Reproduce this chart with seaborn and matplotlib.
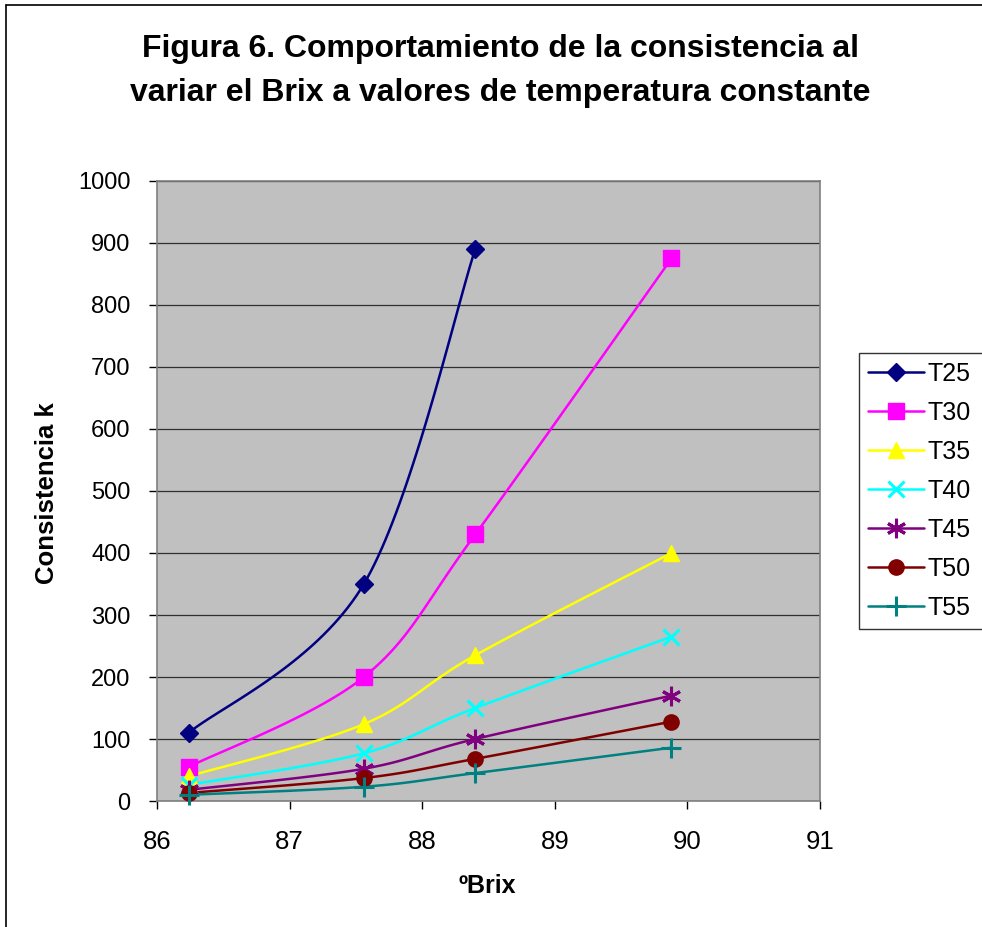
import numpy as np
import pandas as pd
import matplotlib
matplotlib.use("Agg")
import matplotlib.pyplot as plt
from matplotlib.lines import Line2D
import seaborn as sns

# Data: consistency k versus ºBrix at constant temperature
brix = [86.24, 87.56, 88.40, 89.88]
T25 = [110, 350, 890]
T30 = [55, 200, 430, 875]
T35 = [40, 124, 235, 400]
T40 = [26, 77, 150, 265]
T45 = [18, 52, 100, 170]
T50 = [13, 37, 68, 128]
T55 = [10, 23, 45, 86]

series_names = ["T25", "T30", "T35", "T40", "T45", "T50", "T55"]
series_values = [T25, T30, T35, T40, T45, T50, T55]
colors = ["#000080", "#FF00FF", "#FFFF00", "#00FFFF", "#800080", "#800000", "#008080"]
markers = ["D", "s", "^", "x", (6, 2, 0), "o", "+"]
msizes = [9, 11, 12, 12, 14, 11, 14]

x_ticks = [86, 87, 88, 89, 90, 91]
y_ticks = list(range(0, 1001, 100))

sns.set_theme(style="white")
plt.rcParams["font.family"] = ["Liberation Sans", "DejaVu Sans"]
plt.rcParams["text.color"] = "#000000"
plt.rcParams["axes.labelcolor"] = "#000000"
plt.rcParams["xtick.color"] = "#000000"
plt.rcParams["ytick.color"] = "#000000"

fig = plt.figure(figsize=(9.82, 9.27), dpi=100)
ax = fig.add_axes([157 / 982, 1 - 801 / 927, (820 - 157) / 982, (801 - 181) / 927])
ax.set_facecolor("#C0C0C0")

XMIN, XMAX, YMIN, YMAX = 86, 91, 0, 1000
W, H = 663.0, 620.0  # axes size in pixels, for smoothing in screen space


def smooth(xs, ys, n=40):
    """Bezier smoothing through the points (Catmull-Rom style control points)."""
    px = (np.asarray(xs, float) - XMIN) / (XMAX - XMIN) * W
    py = (np.asarray(ys, float) - YMIN) / (YMAX - YMIN) * H
    pts = np.column_stack([px, py])
    m = len(pts)
    out = []
    t = np.linspace(0, 1, n)[:, None]
    for i in range(m - 1):
        p0 = pts[i]
        p3 = pts[i + 1]
        prev = pts[i - 1] if i > 0 else pts[i]
        nxt = pts[i + 2] if i + 2 < m else pts[i + 1]
        c1 = p0 + (p3 - prev) / 6.0
        c2 = p3 - (nxt - p0) / 6.0
        seg = ((1 - t) ** 3) * p0 + 3 * ((1 - t) ** 2) * t * c1 + 3 * (1 - t) * t ** 2 * c2 + t ** 3 * p3
        out.append(seg if i == 0 else seg[1:])
    out = np.vstack(out)
    return out[:, 0] / W * (XMAX - XMIN) + XMIN, out[:, 1] / H * (YMAX - YMIN) + YMIN


handles = []
for name, vals, col, mk, ms in zip(series_names, series_values, colors, markers, msizes):
    xs = brix[:len(vals)]
    sx, sy = smooth(xs, vals)
    curve = pd.DataFrame({"x": sx, "y": sy})
    sns.lineplot(data=curve, x="x", y="y", ax=ax, color=col, lw=1.8, sort=False,
                 estimator=None, zorder=3)
    pts = pd.DataFrame({"x": xs, "y": vals})
    filled = mk not in ("x", "+") and not isinstance(mk, tuple)
    ax.plot(pts["x"], pts["y"], linestyle="none", marker=mk, markersize=ms,
            color=col, markeredgewidth=1 if filled else 2.2, zorder=4, clip_on=False)
    handles.append(Line2D([0], [0], color=col, lw=1.8, marker=mk, markersize=ms,
                          markeredgewidth=1 if filled else 2.2, label=name))

ax.set_xlim(XMIN, XMAX)
ax.set_ylim(YMIN, YMAX)
ax.set_xticks(x_ticks)
ax.set_yticks(y_ticks)
ax.set_xticklabels([str(v) for v in x_ticks], fontsize=18.5)
ax.set_yticklabels([str(v) for v in y_ticks], fontsize=17)
ax.yaxis.grid(True, color="#000000", lw=0.9, alpha=0.75)
ax.xaxis.grid(False)
ax.set_axisbelow(True)
for s in ax.spines.values():
    s.set_color("#808080")
    s.set_linewidth(1.2)
ax.tick_params(axis="both", direction="out", length=6, width=1, color="#000000",
               bottom=True, left=True, labelcolor="#000000")
ax.tick_params(axis="x", pad=15)
ax.tick_params(axis="y", pad=13)

ax.set_xlabel("ºBrix", fontsize=18, fontweight="bold", color="#000000", va="center")
ax.set_ylabel("Consistencia k", fontsize=18.5, fontweight="bold", color="#000000", va="center")
ax.xaxis.set_label_coords((487 - 157) / 663, -(886 - 801) / 620)
ax.yaxis.set_label_coords((47 - 157) / 663, 0.5 - 2 / 620)

fig.text(500 / 982, 1 - 71 / 927,
         "Figura 6. Comportamiento de la consistencia al\nvariar el Brix a valores de temperatura constante",
         ha="center", va="center", fontsize=23, fontweight="bold", linespacing=1.62,
         color="#000000")

leg = fig.legend(handles=handles, loc="upper left",
                 bbox_to_anchor=(859 / 982, 1 - 353 / 927, 0.2, 0), mode="expand",
                 frameon=True, fontsize=18, handlelength=2.25, handletextpad=0.15,
                 borderpad=0.35, labelspacing=0.6, borderaxespad=0, fancybox=False,
                 edgecolor="#000000")
leg.get_frame().set_linewidth(1.0)

# chart border (top and left edges)
fig.add_artist(Line2D([6 / 982, 1.0], [1 - 5 / 927, 1 - 5 / 927], transform=fig.transFigure,
                      color="#000000", lw=1.2))
fig.add_artist(Line2D([6 / 982, 6 / 982], [0.0, 1 - 5 / 927], transform=fig.transFigure,
                      color="#000000", lw=1.2))

fig.savefig("out.png", dpi=100)
